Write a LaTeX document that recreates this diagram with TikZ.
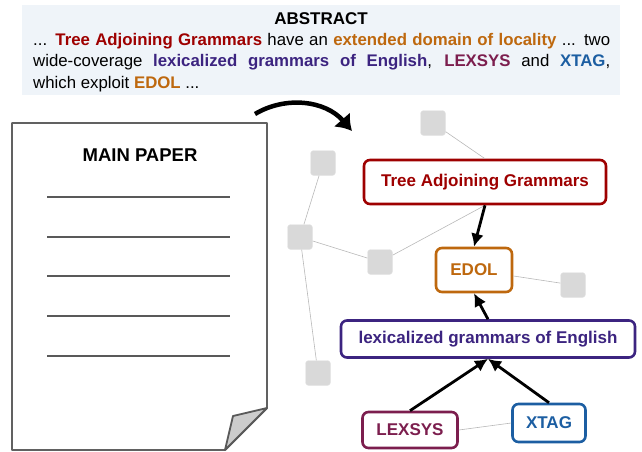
\documentclass[tikz,border=0pt]{standalone}
\usepackage{fontspec}
\setmainfont{Liberation Sans}
\usepackage{xcolor}
\usetikzlibrary{arrows.meta}

\definecolor{tagred}{RGB}{158,0,0}
\definecolor{edolorange}{RGB}{190,104,14}
\definecolor{lexpurple}{RGB}{60,36,128}
\definecolor{lexsysplum}{RGB}{124,30,78}
\definecolor{xtagblue}{RGB}{28,94,162}
\definecolor{absbg}{RGB}{239,244,249}
\definecolor{ghostgray}{RGB}{217,217,217}

\begin{document}
\begin{tikzpicture}[x=1pt, y=-1pt, >={Latex[length=13pt,width=13pt]},
		concept/.style={draw, rounded corners=6pt, line width=2.6pt, fill=white,
			font=\fontsize{17}{20}\selectfont\bfseries, inner sep=0pt},
		ghost/.style={fill=ghostgray, draw=ghostgray!60!white, rounded corners=3pt,
			minimum size=25pt, inner sep=0pt},
		ghostedge/.style={draw=black!28, line width=0.6pt},
		linkarrow/.style={->, line width=2.8pt},
		paperline/.style={draw=black!65, line width=2.6pt}]
			\useasboundingbox (0,0) rectangle (642,451);
			% 摘要框
			\fill[absbg] (22,5) rectangle (620,95);
			\node[font=\fontsize{17}{20}\selectfont\bfseries] (abstitle) at (321,19) {ABSTRACT};
			\node[anchor=north west, inner sep=0pt, text width=577pt, align=justify,
				font=\fontsize{16.8}{21.5}\selectfont] (abstext) at (33,33)
				{... \textcolor{tagred}{\textbf{Tree Adjoining Grammars}} have an
				\textcolor{edolorange}{\textbf{extended domain of locality}} ... two\linebreak
				wide-coverage \textcolor{lexpurple}{\textbf{lexicalized grammars of English}},
				\textcolor{lexsysplum}{\textbf{LEXSYS}} and \textcolor{xtagblue}{\textbf{XTAG}},\linebreak
				which exploit \textcolor{edolorange}{\textbf{EDOL}} ...};
			% 论文页(右下角折起)
			\draw[fill=white, draw=black!62, line width=1.8pt, line join=round]
				(12,123) -- (267,123) -- (267,408) -- (225,450) -- (12,450) -- cycle;
			\draw[fill=black!20, draw=black!65, line width=1.8pt, line join=round]
				(267,408) -- (233,416) -- (225,450) -- cycle;
			\node[font=\fontsize{18.5}{22}\selectfont\bfseries] (papertitle) at (140,155) {MAIN PAPER};
			\foreach \y in {197,237,276,316,356}
				\draw[paperline] (47,\y) -- (230,\y);
			% 弯箭头
			\coordinate (bendfrom) at (255,114);
			\coordinate (bendto) at (352,131);
			\draw[line width=4.5pt, -{Latex[length=15pt,width=22pt]}]
				(bendfrom) .. controls (285,96) and (325,100) .. (bendto);
			% 灰色方块
			\node[ghost] (g1) at (433,123) {};
			\node[ghost] (g2) at (323,163) {};
			\node[ghost] (g3) at (300,237) {};
			\node[ghost] (g4) at (380,262) {};
			\node[ghost] (g5) at (573,285) {};
			\node[ghost] (g6) at (318,373) {};
			% 概念节点
			\node[concept, draw=tagred, text=tagred, minimum width=242pt, minimum height=44pt] (tag) at (485,182) {Tree Adjoining Grammars};
			\node[concept, draw=edolorange, text=edolorange, minimum width=76pt, minimum height=44pt] (edol) at (474,270) {EDOL};
			\node[concept, draw=lexpurple, text=lexpurple, minimum width=294pt, minimum height=37pt] (lex) at (488,339) {lexicalized grammars of English};
			\node[concept, draw=lexsysplum, text=lexsysplum, minimum width=95pt, minimum height=36pt] (lexsys) at (410,430) {LEXSYS};
			\node[concept, draw=xtagblue, text=xtagblue, minimum width=73pt, minimum height=38pt] (xtag) at (549,423) {XTAG};
			% 细灰线
			\draw[ghostedge] (g1) -- (tag.north);
			\draw[ghostedge] (g2) -- (g3);
			\draw[ghostedge] (g3) -- (g4);
			\draw[ghostedge] (g3) -- (g6);
			\draw[ghostedge] (g4) -- (tag.south);
			\draw[ghostedge] (edol) -- (g5);
			\draw[ghostedge] (lexsys.east) -- (xtag.west);
			% 黑箭头
			\draw[linkarrow] (tag.south) -- (edol.north);
			\draw[linkarrow] (lex.north) -- (edol.south);
			\draw[linkarrow] (lexsys.north) -- (lex.south);
			\draw[linkarrow] (xtag.north) -- (lex.south);
		\end{tikzpicture}
\end{document}
